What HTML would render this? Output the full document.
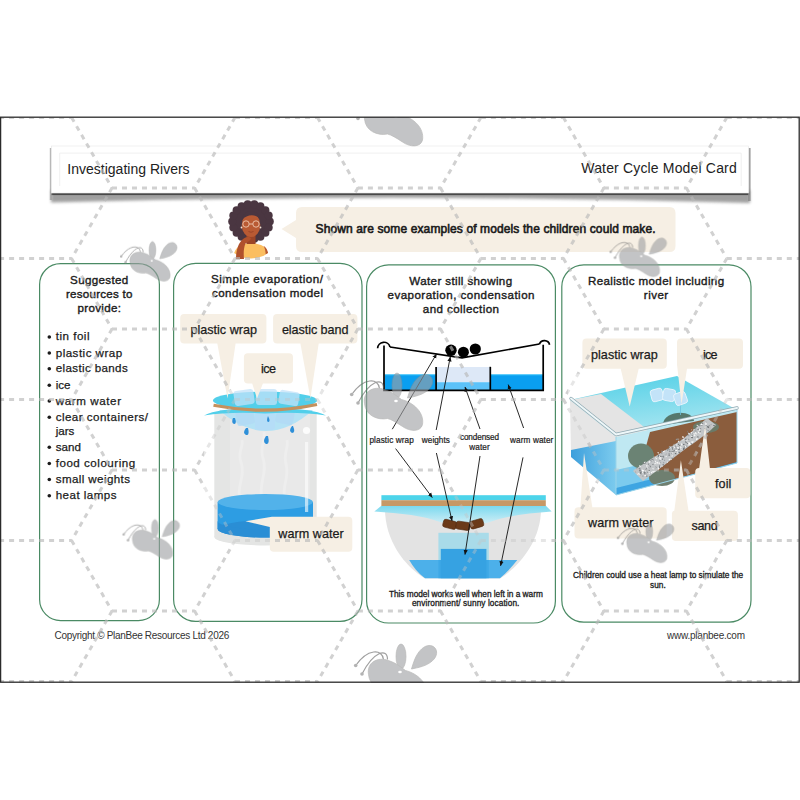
<!DOCTYPE html>
<html><head><meta charset="utf-8">
<style>
*{margin:0;padding:0;box-sizing:border-box}
html,body{width:800px;height:800px;background:#fff;overflow:hidden;font-family:"Liberation Sans",sans-serif}
#page{position:absolute;left:0;top:116.5px;width:800px;height:566.5px;border:1.5px solid #2b2b2b;border-right-width:1.5px;background:#fff}
svg{position:absolute;left:0;top:0}
text{font-family:"Liberation Sans",sans-serif;fill:#1b1b1b}
.ti{font-size:11.6px;stroke:#1b1b1b;stroke-width:0.38px}
.li{font-size:11.6px;stroke:#1b1b1b;stroke-width:0.25px}
.lb{font-size:12.6px;stroke:#1b1b1b;stroke-width:0.25px}
.sm{font-size:8.2px;stroke:#1b1b1b;stroke-width:0.2px}
.cap{font-size:8.3px;stroke:#1b1b1b;stroke-width:0.3px}
.hd{font-size:14px;fill:#222}
.ft{font-size:10px;fill:#333}
</style></head><body>

<svg width="800" height="800" viewBox="0 0 800 800">
<defs>
 <clipPath id="pc"><rect x="1" y="117.5" width="798" height="565"/></clipPath>
 
 <filter id="hs" x="-5%" y="-30%" width="110%" height="180%"><feGaussianBlur stdDeviation="2"/></filter>
</defs>
<!-- background pattern -->
<g clip-path="url(#pc)">
</g>
<!-- header -->
<clipPath id="hclip"><path clip-rule="evenodd" d="M0,0 H800 V800 H0Z M51.5,146 H748.5 V193 H51.5Z"/></clipPath>
<filter id="hs2" x="-5%" y="-50%" width="110%" height="200%"><feGaussianBlur stdDeviation="1.6"/></filter>
<filter id="hs3" x="-5%" y="-50%" width="110%" height="200%"><feGaussianBlur stdDeviation="0.6"/></filter>
<g clip-path="url(#hclip)">
 <path d="M51,190 L51,202.5 Q400,193 750,203 L750,190Z" fill="#777" opacity="0.7" filter="url(#hs2)"/>
 <rect x="51" y="192.5" width="698.5" height="2.6" fill="#4a4a4a" filter="url(#hs3)"/>
 <rect x="49.8" y="148" width="2.4" height="52" fill="#9a9a9a" opacity="0.7" filter="url(#hs3)"/>
 <rect x="748" y="148" width="2.6" height="53" fill="#8a8a8a" opacity="0.8" filter="url(#hs3)"/>
</g>
<rect x="51.5" y="146" width="697" height="47" fill="#fff" stroke="#e6e6e6" stroke-width="0.6"/>
<path d="M59.7,186 V153.1 H741.2 V186" fill="none" stroke="#ececec" stroke-width="0.8"/>
<text class="hd" x="67.3" y="173.6" textLength="122.3" lengthAdjust="spacing">Investigating Rivers</text>
<text class="hd" x="736.7" y="173.4" text-anchor="end" textLength="155.4" lengthAdjust="spacing">Water Cycle Model Card</text>
<!-- bubble -->
<path d="M302,207 H669.5 Q675.5,207 675.5,213 V246 Q675.5,252 669.5,252 H302 Q296,252 296,246 V238 L281.5,229 L296,220 V213 Q296,207 302,207Z" fill="#f6efe4"/>
<text x="315.6" y="233.2" font-size="12" stroke="#1b1b1b" stroke-width="0.6" textLength="340" lengthAdjust="spacing">Shown are some examples of models the children could make.</text>
<!-- panels -->
<g fill="none" stroke="#4a8a64" stroke-width="1.2">
 <rect x="39.6" y="263.6" width="119.8" height="357" rx="21"/>
 <rect x="173.6" y="263.4" width="188.4" height="358" rx="22"/>
 <rect x="366.6" y="264.8" width="188.8" height="358.2" rx="22"/>
 <rect x="561.8" y="264.8" width="189.2" height="357.4" rx="22"/>
</g>
<!-- P1 text -->
<g class="ti" text-anchor="middle">
 <text x="99.2" y="283.5" textLength="58.2" lengthAdjust="spacing">Suggested</text>
 <text x="99.2" y="297.5" textLength="66.5" lengthAdjust="spacing">resources to</text>
 <text x="99.2" y="311.5" textLength="43.5" lengthAdjust="spacing">provide:</text>
 <text x="267" y="283.3" textLength="112" lengthAdjust="spacing">Simple evaporation/</text>
 <text x="267.5" y="297.3" textLength="111" lengthAdjust="spacing">condensation model</text>
 <text x="460.7" y="285" textLength="102.8" lengthAdjust="spacing">Water still showing</text>
 <text x="461" y="298.8" textLength="147" lengthAdjust="spacing">evaporation, condensation</text>
 <text x="460.9" y="312.7" textLength="76.2" lengthAdjust="spacing">and collection</text>
 <text x="656" y="285" textLength="136.2" lengthAdjust="spacing">Realistic model including</text>
 <text x="656" y="299.1" textLength="24.4" lengthAdjust="spacing">river</text>
</g>
<g fill="#1b1b1b">
 <circle cx="49.3" cy="337" r="1.8"/><circle cx="49.3" cy="353" r="1.8"/><circle cx="49.3" cy="368.8" r="1.8"/><circle cx="49.3" cy="385.2" r="1.8"/><circle cx="49.3" cy="401" r="1.8"/><circle cx="49.3" cy="417.2" r="1.8"/><circle cx="49.3" cy="447.2" r="1.8"/><circle cx="49.3" cy="463.5" r="1.8"/><circle cx="49.3" cy="479.5" r="1.8"/><circle cx="49.3" cy="495.7" r="1.8"/>
</g>
<g class="li">
 <text x="55.7" y="340.4" textLength="33.8" lengthAdjust="spacing">tin foil</text>
 <text x="55.7" y="356.5" textLength="66.5" lengthAdjust="spacing">plastic wrap</text>
 <text x="55.7" y="372.2" textLength="72" lengthAdjust="spacing">elastic bands</text>
 <text x="55.7" y="388.7">ice</text>
 <text x="55.7" y="404.5" textLength="65.3" lengthAdjust="spacing">warm water</text>
 <text x="55.7" y="420.7" textLength="92.3" lengthAdjust="spacing">clear containers/</text>
 <text x="55.7" y="435">jars</text>
 <text x="55.7" y="450.7">sand</text>
 <text x="55.7" y="467" textLength="79.5" lengthAdjust="spacing">food colouring</text>
 <text x="55.7" y="483" textLength="74.3" lengthAdjust="spacing">small weights</text>
 <text x="55.7" y="499.2" textLength="60.8" lengthAdjust="spacing">heat lamps</text>
</g>
<!-- ===== P2 jar ===== -->
<g id="jar">
 <rect x="214.3" y="412" width="102.4" height="125" fill="#e4e5e4"/>
 <ellipse cx="265.5" cy="537" rx="51.2" ry="8.5" fill="#e4e5e4"/>
 <rect x="230" y="414" width="80" height="90" fill="#e9e9e9"/>
 <g fill="none" stroke="#fff" stroke-opacity="0.22" stroke-width="3">
  <path d="M240,500 C236,485 246,478 241,462 C237,452 244,446 242,440"/>
  <path d="M262,500 C258,482 268,474 263,458 C259,448 266,440 264,432"/>
  <path d="M285,500 C281,486 290,478 286,464 C283,454 289,447 287,440"/>
 </g>
 <rect x="217.6" y="502" width="95.4" height="27" fill="#2d9de3"/>
 <ellipse cx="265.3" cy="529" rx="47.7" ry="8.6" fill="#2a8ed5"/>
 <path d="M217.6,529 A47.7,8.6 0 0 0 313,529 L313,521 A47.7,8.6 0 0 1 217.6,521Z" fill="#2a8ed5"/>
 <ellipse cx="265.3" cy="502" rx="47.7" ry="8" fill="#52b2ea"/>
 <rect x="305" y="442" width="3.2" height="70" fill="#fff" fill-opacity="0.6"/>
 <circle cx="306.5" cy="430.5" r="3.6" fill="#fff" fill-opacity="0.85"/>
 <!-- wrap -->
 <path d="M219,410 Q266,452 313,410Z" fill="#b4e2f5"/>
 <g fill="#b2daf5" fill-opacity="0.8">
  <rect x="236" y="408" width="18" height="17" rx="3" transform="rotate(-10 245 416)"/>
  <rect x="255" y="412" width="20" height="18" rx="3" fill="#b5dcf7"/>
  <rect x="276" y="408" width="18" height="16" rx="3" transform="rotate(12 285 416)"/>
 </g>
 <g fill="#2e8fd8">
  <path d="M233,418 q-2,5 1,6 q3,0 1,-6z"/>
  <path d="M246,428 q-4,5 0,7 q4,1 2,-7z"/>
  <path d="M266,436 q-4,6 0,8 q4,1 2,-8z"/>
  <path d="M292,426 q-4,5 0,7 q4,0 1,-7z"/>
  <path d="M268,416 q-2,5 0,6 q3,0 0,-6z"/>
 </g>
 <path d="M204,415.5 Q222,407 265,409 Q308,407 326,415.5 Q300,411.5 265,413.5 Q230,411.5 204,415.5Z" fill="#52cfea"/>
 <ellipse cx="265" cy="400.5" rx="52" ry="9" fill="#52cfea"/>
 <g fill="#c2e2f8" fill-opacity="0.75">
  <rect x="234" y="390" width="20" height="15" rx="3" transform="rotate(-8 244 397)"/>
  <rect x="256" y="389" width="21" height="16" rx="3"/>
  <rect x="279" y="391" width="20" height="14" rx="3" transform="rotate(10 289 398)"/>
 </g>
 <path d="M213.5,405.3 Q265,415.5 317,404.5" fill="none" stroke="#c4915e" stroke-width="3.2"/>
</g>
<!-- ===== P3 diagram ===== -->
<g id="still">
 <rect x="384.8" y="374.6" width="51" height="15.6" fill="#0a9ff0"/>
 <rect x="385" y="374.4" width="51" height="0.9" fill="#3ec6fb"/>
 <rect x="491" y="374.6" width="52" height="15.6" fill="#0a9ff0"/>
 <rect x="491" y="374.4" width="52" height="0.9" fill="#3ec6fb"/>
 <rect x="437" y="367" width="53" height="15.2" fill="#dde8f7"/>
 <rect x="437" y="382.2" width="53" height="8" fill="#5cc2f9"/>
 <g fill="none" stroke="#000" stroke-width="1.7">
  <path d="M384,345.5 V390.3 H543.2 V344.8"/>
  <path d="M436.1,367 V390"/>
  <path d="M490.3,366.8 V390"/>
  <path d="M377.6,348.3 A6.3,6.3 0 0 1 390,347"/>
  <path d="M539.4,344.2 A5.3,5.3 0 0 1 549.6,344.8"/>
  <path d="M390,347 L462,357.8 L539.4,344"/>
 </g>
 <g fill="#000">
  <circle cx="451" cy="350.2" r="5.7"/>
  <circle cx="463.4" cy="352.2" r="5.5"/>
  <circle cx="475.3" cy="349" r="5.6"/>
 </g>
</g>
<!-- ===== P3 bowl ===== -->
<g id="bowl">
 <path d="M385,509 H541 C541,540 520,566 500,578.5 H425 C404,566 385,540 385,509Z" fill="#e3e3e3"/>
 <path d="M409.2,560 H517.3 C512,567 506,573 500,578.2 H425 C418,573 413,567 409.2,560Z" fill="#4cb0ea"/>
 <rect x="438.4" y="532.8" width="50.4" height="27.2" fill="#a9dbe9"/>
 <rect x="438.4" y="560" width="50.4" height="18.2" fill="#3ea8e6"/>
 <rect x="440.8" y="548.9" width="45.6" height="29.3" fill="#36a2e2"/>
 <defs><linearGradient id="skirt" x1="0" y1="0" x2="0" y2="1"><stop offset="0" stop-color="#7ad9ef"/><stop offset="1" stop-color="#d6eff6"/></linearGradient></defs>
 <path d="M374.3,511.5 L381.4,505.8 H545.8 L551.7,511.5 C530,513 505,516 490,522 C478,526 455,526 440,522 C425,516 400,513 374.3,511.5Z" fill="url(#skirt)"/>
 <rect x="381.4" y="495.2" width="164.4" height="5" fill="#4dd4ea"/>
 <rect x="381.4" y="500.2" width="164.4" height="5.8" fill="#c69866"/>
 <g fill="#6b3a19" stroke="#4e2810" stroke-width="0.6">
  <rect x="443" y="520.3" width="13.5" height="8" rx="2.2" transform="rotate(14 449.7 524.3)"/>
  <rect x="456" y="521.8" width="14" height="8" rx="2.2" transform="rotate(8 463 525.8)"/>
  <rect x="470" y="519.8" width="13.5" height="8" rx="2.2" transform="rotate(-16 476.8 523.8)"/>
 </g>
</g>
<!-- arrows P3 -->
<defs><marker id="ah" markerWidth="6" markerHeight="6" refX="4.6" refY="3" orient="auto" markerUnits="userSpaceOnUse"><path d="M0,0.9 L4.8,3 L0,5.1Z" fill="#111"/></marker></defs>
<g stroke="#111" stroke-width="0.9" fill="none" marker-end="url(#ah)">
 <path d="M392.3,429.2 L436.6,353.8"/>
 <path d="M436.2,430 L450.3,356.8"/>
 <path d="M480,429 L465,387"/>
 <path d="M523.6,428 L508.2,384.6"/>
 <path d="M395.6,448.6 L432.3,497.5"/>
 <path d="M436.4,453 L452,520.8"/>
 <path d="M480,456 L465,554.5"/>
 <path d="M523,457.4 L500.6,565.8"/>
</g>
<!-- ===== P4 box ===== -->
<g id="box">
 <defs>
  <linearGradient id="topg" x1="0" y1="0" x2="0.3" y2="1"><stop offset="0" stop-color="#4fcfe6"/><stop offset="1" stop-color="#a9e6f1"/></linearGradient>
  <linearGradient id="lw" x1="0" y1="0" x2="1" y2="0"><stop offset="0" stop-color="#3d9fdc"/><stop offset="1" stop-color="#7ccbee"/></linearGradient>
 </defs>
 <!-- left face -->
 <path d="M570,400 L616,437 L616,495 L571,457Z" fill="#e6e6e6"/>
 <path d="M571,450 L616,441 L616,495 L571,457Z" fill="url(#lw)"/>
 <!-- front face -->
 <path d="M616,437 L737,410 L737,463 L616,495Z" fill="#bfe8f2"/>
 <path d="M616,470 L737,443 L737,463 L616,495Z" fill="#7ccbee"/>
 <path d="M616,488 L737,458 L737,463 L616,495Z" fill="#3ea5e2"/>
 <!-- sand -->
 <path d="M650,432 L737,412 L737,462 L668,481 C655,482 645,476 640,468Z" fill="#8b5d3d"/>
 <ellipse cx="641" cy="456" rx="13" ry="12.5" fill="#6b8374"/>
 <ellipse cx="662" cy="478" rx="13" ry="8" fill="#6f7f70"/>
  <ellipse cx="706" cy="427" rx="13" ry="6" fill="#6b7a68"/>
 <!-- foil -->
 <path d="M633,471 C650,459 668,449 680,441 C690,434 700,424 707,418 L716,425 C708,433 697,441 688,447 C672,459 658,470 643,481Z" fill="#c3c6c8"/>
 <g><rect x="654.9" y="462.6" width="2.1" height="1.0" fill="#f4f4f4" transform="rotate(105 655.9 463.1)"/><rect x="685.8" y="445.9" width="1.2" height="0.8" fill="#ffffff" transform="rotate(179 686.4 446.3)"/><rect x="675.1" y="452.5" width="1.4" height="1.3" fill="#ffffff" transform="rotate(42 675.8 453.2)"/><rect x="652.4" y="471.2" width="1.8" height="1.1" fill="#ffffff" transform="rotate(12 653.3 471.7)"/><rect x="693.6" y="434.7" width="1.9" height="1.3" fill="#f4f4f4" transform="rotate(48 694.6 435.3)"/><rect x="684.8" y="446.3" width="1.8" height="1.3" fill="#ffffff" transform="rotate(71 685.7 447.0)"/><rect x="695.3" y="431.5" width="2.0" height="0.7" fill="#9a9ea1" transform="rotate(24 696.4 431.8)"/><rect x="657.6" y="467.9" width="1.9" height="1.3" fill="#ffffff" transform="rotate(76 658.5 468.5)"/><rect x="699.1" y="430.5" width="1.6" height="1.1" fill="#b5b8ba" transform="rotate(163 699.9 431.1)"/><rect x="691.0" y="441.7" width="2.2" height="1.1" fill="#f4f4f4" transform="rotate(29 692.1 442.2)"/><rect x="704.7" y="432.0" width="1.6" height="1.2" fill="#b5b8ba" transform="rotate(38 705.5 432.5)"/><rect x="699.3" y="430.7" width="1.0" height="1.0" fill="#f4f4f4" transform="rotate(115 699.8 431.2)"/><rect x="671.4" y="447.6" width="1.4" height="0.7" fill="#7d8184" transform="rotate(53 672.1 448.0)"/><rect x="697.1" y="436.3" width="1.6" height="1.2" fill="#7d8184" transform="rotate(68 697.9 436.9)"/><rect x="680.8" y="443.6" width="1.5" height="1.4" fill="#f4f4f4" transform="rotate(56 681.6 444.3)"/><rect x="643.6" y="471.7" width="2.1" height="1.4" fill="#7d8184" transform="rotate(52 644.6 472.4)"/><rect x="658.6" y="462.5" width="1.2" height="1.4" fill="#f4f4f4" transform="rotate(161 659.2 463.2)"/><rect x="664.7" y="454.1" width="1.3" height="1.3" fill="#b5b8ba" transform="rotate(123 665.4 454.7)"/><rect x="649.6" y="474.4" width="1.2" height="1.1" fill="#b5b8ba" transform="rotate(129 650.2 475.0)"/><rect x="705.5" y="424.0" width="1.5" height="1.0" fill="#f4f4f4" transform="rotate(2 706.3 424.5)"/><rect x="668.6" y="453.3" width="1.3" height="1.1" fill="#7d8184" transform="rotate(24 669.3 453.8)"/><rect x="682.1" y="439.4" width="1.8" height="0.9" fill="#f4f4f4" transform="rotate(127 683.0 439.9)"/><rect x="686.8" y="431.5" width="2.1" height="0.6" fill="#7d8184" transform="rotate(66 687.8 431.8)"/><rect x="681.6" y="439.4" width="1.2" height="0.9" fill="#b5b8ba" transform="rotate(56 682.3 439.9)"/><rect x="665.1" y="456.1" width="1.9" height="0.7" fill="#f4f4f4" transform="rotate(146 666.1 456.5)"/><rect x="710.4" y="424.0" width="1.2" height="0.8" fill="#9a9ea1" transform="rotate(145 711.1 424.4)"/><rect x="651.6" y="459.1" width="1.7" height="0.7" fill="#ffffff" transform="rotate(108 652.5 459.5)"/><rect x="708.6" y="424.9" width="1.4" height="1.3" fill="#9a9ea1" transform="rotate(30 709.3 425.5)"/><rect x="663.5" y="458.4" width="1.4" height="0.8" fill="#b5b8ba" transform="rotate(22 664.2 458.8)"/><rect x="673.5" y="443.7" width="1.1" height="0.8" fill="#b5b8ba" transform="rotate(145 674.0 444.2)"/><rect x="687.2" y="442.9" width="1.6" height="0.9" fill="#f4f4f4" transform="rotate(93 688.0 443.4)"/><rect x="699.5" y="428.9" width="1.4" height="0.9" fill="#6c7073" transform="rotate(74 700.2 429.3)"/><rect x="701.8" y="422.6" width="1.5" height="1.3" fill="#7d8184" transform="rotate(112 702.5 423.3)"/><rect x="675.5" y="447.9" width="1.1" height="1.2" fill="#6c7073" transform="rotate(151 676.1 448.5)"/><rect x="686.1" y="439.2" width="1.6" height="1.3" fill="#f4f4f4" transform="rotate(155 686.9 439.9)"/><rect x="704.4" y="432.4" width="1.9" height="0.6" fill="#7d8184" transform="rotate(163 705.4 432.7)"/><rect x="692.1" y="441.2" width="1.6" height="0.6" fill="#ffffff" transform="rotate(134 692.9 441.5)"/><rect x="648.2" y="463.6" width="0.8" height="1.0" fill="#6c7073" transform="rotate(10 648.7 464.2)"/><rect x="701.0" y="422.7" width="1.2" height="1.3" fill="#9a9ea1" transform="rotate(86 701.6 423.4)"/><rect x="693.6" y="431.4" width="1.0" height="1.3" fill="#9a9ea1" transform="rotate(21 694.1 432.1)"/><rect x="652.4" y="460.0" width="2.0" height="0.6" fill="#9a9ea1" transform="rotate(113 653.4 460.3)"/><rect x="696.7" y="425.0" width="1.1" height="1.1" fill="#f4f4f4" transform="rotate(94 697.3 425.5)"/><rect x="639.0" y="470.2" width="2.0" height="1.2" fill="#7d8184" transform="rotate(8 640.0 470.8)"/><rect x="640.5" y="472.3" width="2.0" height="0.7" fill="#7d8184" transform="rotate(90 641.5 472.6)"/><rect x="658.8" y="456.2" width="1.3" height="0.9" fill="#f4f4f4" transform="rotate(55 659.4 456.6)"/><rect x="661.7" y="465.5" width="1.0" height="1.0" fill="#ffffff" transform="rotate(129 662.2 466.0)"/><rect x="661.5" y="450.5" width="0.9" height="1.0" fill="#9a9ea1" transform="rotate(117 661.9 451.0)"/><rect x="678.2" y="447.0" width="1.7" height="0.9" fill="#7d8184" transform="rotate(67 679.1 447.5)"/><rect x="675.3" y="450.1" width="2.1" height="0.9" fill="#ffffff" transform="rotate(3 676.4 450.5)"/><rect x="651.4" y="460.9" width="0.9" height="0.9" fill="#b5b8ba" transform="rotate(77 651.8 461.4)"/><rect x="705.6" y="430.7" width="2.2" height="1.0" fill="#f4f4f4" transform="rotate(157 706.6 431.3)"/><rect x="647.9" y="470.3" width="1.7" height="1.3" fill="#6c7073" transform="rotate(143 648.8 470.9)"/><rect x="688.5" y="440.8" width="1.5" height="1.2" fill="#b5b8ba" transform="rotate(129 689.2 441.4)"/><rect x="669.9" y="447.2" width="0.9" height="0.7" fill="#ffffff" transform="rotate(18 670.3 447.5)"/><rect x="699.1" y="424.9" width="1.3" height="1.3" fill="#7d8184" transform="rotate(5 699.8 425.6)"/><rect x="645.2" y="468.6" width="2.1" height="1.1" fill="#6c7073" transform="rotate(144 646.3 469.1)"/><rect x="642.6" y="476.0" width="1.5" height="0.8" fill="#b5b8ba" transform="rotate(100 643.3 476.4)"/><rect x="645.2" y="470.1" width="1.3" height="1.1" fill="#b5b8ba" transform="rotate(149 645.9 470.7)"/><rect x="652.0" y="458.6" width="1.4" height="1.2" fill="#9a9ea1" transform="rotate(170 652.7 459.2)"/><rect x="656.8" y="462.2" width="1.6" height="1.4" fill="#f4f4f4" transform="rotate(68 657.6 462.8)"/><rect x="658.4" y="466.6" width="2.2" height="0.9" fill="#6c7073" transform="rotate(102 659.5 467.1)"/><rect x="683.9" y="447.3" width="1.5" height="1.1" fill="#6c7073" transform="rotate(162 684.6 447.9)"/><rect x="644.3" y="462.7" width="1.5" height="1.2" fill="#6c7073" transform="rotate(171 645.0 463.2)"/><rect x="683.9" y="446.6" width="1.2" height="0.8" fill="#9a9ea1" transform="rotate(105 684.5 446.9)"/><rect x="657.8" y="455.3" width="1.6" height="1.2" fill="#6c7073" transform="rotate(121 658.5 455.9)"/><rect x="700.9" y="429.6" width="1.6" height="0.8" fill="#b5b8ba" transform="rotate(39 701.7 430.0)"/><rect x="639.0" y="473.5" width="1.1" height="1.1" fill="#ffffff" transform="rotate(43 639.5 474.0)"/><rect x="675.8" y="452.2" width="2.2" height="1.0" fill="#ffffff" transform="rotate(108 676.9 452.7)"/><rect x="674.8" y="452.8" width="1.6" height="1.0" fill="#6c7073" transform="rotate(130 675.6 453.3)"/><rect x="699.0" y="428.2" width="2.0" height="0.6" fill="#6c7073" transform="rotate(164 700.1 428.5)"/><rect x="704.4" y="428.1" width="0.9" height="0.8" fill="#6c7073" transform="rotate(46 704.8 428.5)"/><rect x="705.4" y="428.9" width="1.1" height="1.2" fill="#9a9ea1" transform="rotate(155 705.9 429.5)"/><rect x="701.3" y="424.6" width="1.2" height="0.9" fill="#7d8184" transform="rotate(131 701.9 425.1)"/><rect x="639.9" y="466.0" width="0.9" height="1.0" fill="#f4f4f4" transform="rotate(132 640.3 466.5)"/><rect x="657.5" y="452.3" width="1.4" height="1.0" fill="#f4f4f4" transform="rotate(38 658.2 452.8)"/><rect x="684.8" y="447.4" width="1.0" height="0.9" fill="#ffffff" transform="rotate(159 685.3 447.8)"/><rect x="641.9" y="470.0" width="2.0" height="1.3" fill="#ffffff" transform="rotate(17 642.9 470.7)"/><rect x="705.1" y="423.3" width="1.9" height="0.8" fill="#f4f4f4" transform="rotate(122 706.0 423.8)"/><rect x="688.5" y="442.1" width="1.0" height="1.4" fill="#f4f4f4" transform="rotate(61 688.9 442.7)"/><rect x="679.1" y="444.7" width="1.5" height="0.9" fill="#6c7073" transform="rotate(129 679.8 445.2)"/><rect x="687.6" y="438.8" width="1.7" height="1.2" fill="#9a9ea1" transform="rotate(27 688.5 439.4)"/><rect x="668.8" y="458.8" width="1.0" height="1.3" fill="#ffffff" transform="rotate(25 669.3 459.5)"/><rect x="663.8" y="459.3" width="1.4" height="0.8" fill="#b5b8ba" transform="rotate(34 664.5 459.7)"/><rect x="675.7" y="451.4" width="0.9" height="1.2" fill="#6c7073" transform="rotate(136 676.1 452.0)"/><rect x="679.7" y="447.9" width="0.9" height="0.8" fill="#f4f4f4" transform="rotate(10 680.2 448.3)"/><rect x="647.3" y="467.3" width="1.1" height="1.2" fill="#f4f4f4" transform="rotate(64 647.8 467.9)"/><rect x="660.6" y="456.3" width="1.9" height="0.7" fill="#b5b8ba" transform="rotate(90 661.5 456.6)"/><rect x="707.6" y="418.9" width="0.9" height="0.7" fill="#b5b8ba" transform="rotate(140 708.0 419.3)"/><rect x="687.7" y="433.1" width="1.6" height="1.1" fill="#9a9ea1" transform="rotate(70 688.5 433.7)"/><rect x="706.4" y="419.3" width="1.0" height="0.9" fill="#b5b8ba" transform="rotate(35 706.9 419.8)"/><rect x="676.4" y="447.2" width="2.0" height="0.9" fill="#9a9ea1" transform="rotate(53 677.4 447.6)"/><rect x="698.3" y="429.1" width="2.1" height="0.9" fill="#ffffff" transform="rotate(99 699.4 429.6)"/><rect x="681.2" y="444.8" width="1.8" height="0.8" fill="#b5b8ba" transform="rotate(155 682.1 445.2)"/><rect x="673.7" y="449.9" width="1.7" height="0.7" fill="#6c7073" transform="rotate(136 674.5 450.3)"/><rect x="651.3" y="459.2" width="1.4" height="0.8" fill="#6c7073" transform="rotate(95 652.0 459.6)"/><rect x="639.7" y="473.2" width="2.1" height="0.7" fill="#6c7073" transform="rotate(51 640.7 473.5)"/><rect x="682.1" y="436.5" width="1.9" height="1.1" fill="#ffffff" transform="rotate(9 683.1 437.1)"/><rect x="661.1" y="453.2" width="1.5" height="0.6" fill="#7d8184" transform="rotate(61 661.9 453.5)"/><rect x="660.1" y="455.6" width="1.0" height="1.3" fill="#6c7073" transform="rotate(108 660.6 456.3)"/><rect x="707.0" y="426.3" width="2.2" height="1.4" fill="#6c7073" transform="rotate(37 708.1 427.0)"/><rect x="638.7" y="468.4" width="1.9" height="1.0" fill="#6c7073" transform="rotate(20 639.7 468.9)"/><rect x="636.0" y="468.2" width="1.8" height="0.9" fill="#9a9ea1" transform="rotate(85 636.9 468.6)"/><rect x="645.6" y="475.2" width="1.7" height="0.8" fill="#9a9ea1" transform="rotate(84 646.5 475.6)"/><rect x="692.0" y="433.5" width="1.4" height="0.6" fill="#9a9ea1" transform="rotate(46 692.7 433.8)"/><rect x="699.1" y="428.9" width="1.6" height="0.8" fill="#f4f4f4" transform="rotate(0 699.9 429.3)"/><rect x="655.1" y="466.6" width="2.0" height="1.0" fill="#9a9ea1" transform="rotate(29 656.1 467.1)"/><rect x="640.0" y="474.9" width="1.0" height="0.6" fill="#b5b8ba" transform="rotate(20 640.5 475.2)"/><rect x="649.3" y="465.9" width="2.0" height="0.9" fill="#7d8184" transform="rotate(57 650.3 466.3)"/><rect x="641.9" y="475.6" width="1.4" height="0.9" fill="#9a9ea1" transform="rotate(5 642.5 476.1)"/><rect x="705.8" y="421.0" width="1.3" height="0.8" fill="#7d8184" transform="rotate(60 706.4 421.4)"/><rect x="650.2" y="473.0" width="0.9" height="1.2" fill="#b5b8ba" transform="rotate(50 650.6 473.6)"/><rect x="694.8" y="432.2" width="1.5" height="1.0" fill="#f4f4f4" transform="rotate(5 695.6 432.7)"/><rect x="667.1" y="461.5" width="0.9" height="1.1" fill="#f4f4f4" transform="rotate(174 667.5 462.1)"/><rect x="676.0" y="438.9" width="1.8" height="0.6" fill="#7d8184" transform="rotate(91 676.9 439.2)"/><rect x="669.4" y="446.3" width="2.1" height="0.8" fill="#b5b8ba" transform="rotate(175 670.5 446.7)"/><rect x="674.9" y="452.2" width="2.1" height="0.6" fill="#f4f4f4" transform="rotate(55 675.9 452.5)"/><rect x="685.7" y="446.2" width="2.1" height="0.7" fill="#7d8184" transform="rotate(74 686.8 446.6)"/><rect x="674.9" y="447.8" width="1.8" height="1.3" fill="#b5b8ba" transform="rotate(31 675.7 448.5)"/><rect x="693.9" y="437.1" width="1.3" height="0.7" fill="#b5b8ba" transform="rotate(144 694.5 437.4)"/><rect x="669.0" y="450.9" width="1.5" height="0.8" fill="#6c7073" transform="rotate(31 669.7 451.3)"/><rect x="691.1" y="436.8" width="1.8" height="1.4" fill="#6c7073" transform="rotate(8 691.9 437.4)"/><rect x="652.6" y="468.2" width="0.9" height="1.2" fill="#ffffff" transform="rotate(119 653.1 468.8)"/><rect x="662.1" y="458.6" width="0.9" height="1.1" fill="#6c7073" transform="rotate(9 662.5 459.2)"/><rect x="675.2" y="453.2" width="1.3" height="0.9" fill="#6c7073" transform="rotate(13 675.8 453.7)"/><rect x="671.1" y="457.8" width="1.3" height="0.8" fill="#7d8184" transform="rotate(81 671.7 458.2)"/><rect x="695.3" y="428.5" width="0.9" height="0.7" fill="#6c7073" transform="rotate(116 695.8 428.9)"/><rect x="675.8" y="439.3" width="1.2" height="0.8" fill="#9a9ea1" transform="rotate(153 676.4 439.7)"/><rect x="675.3" y="447.1" width="1.2" height="1.3" fill="#b5b8ba" transform="rotate(141 675.9 447.7)"/><rect x="672.5" y="451.0" width="2.0" height="0.7" fill="#7d8184" transform="rotate(4 673.5 451.4)"/><rect x="705.9" y="420.7" width="0.9" height="1.0" fill="#f4f4f4" transform="rotate(40 706.3 421.2)"/><rect x="699.3" y="431.0" width="1.5" height="1.1" fill="#6c7073" transform="rotate(126 700.0 431.6)"/><rect x="668.6" y="454.6" width="1.2" height="1.4" fill="#7d8184" transform="rotate(80 669.2 455.3)"/><rect x="661.5" y="450.8" width="1.4" height="1.2" fill="#7d8184" transform="rotate(14 662.2 451.4)"/><rect x="662.2" y="456.1" width="2.1" height="1.1" fill="#7d8184" transform="rotate(66 663.3 456.7)"/><rect x="691.1" y="429.3" width="1.1" height="0.9" fill="#b5b8ba" transform="rotate(179 691.6 429.8)"/><rect x="661.4" y="456.3" width="1.2" height="0.9" fill="#7d8184" transform="rotate(135 662.0 456.7)"/><rect x="649.6" y="460.8" width="1.7" height="1.3" fill="#6c7073" transform="rotate(96 650.5 461.5)"/><rect x="672.0" y="456.6" width="2.1" height="1.0" fill="#b5b8ba" transform="rotate(139 673.1 457.1)"/><rect x="672.1" y="457.5" width="1.2" height="1.3" fill="#7d8184" transform="rotate(33 672.7 458.2)"/><rect x="646.5" y="472.4" width="1.5" height="0.6" fill="#f4f4f4" transform="rotate(85 647.2 472.7)"/><rect x="648.7" y="461.6" width="1.4" height="0.9" fill="#ffffff" transform="rotate(134 649.4 462.0)"/><rect x="690.2" y="432.8" width="1.4" height="1.3" fill="#7d8184" transform="rotate(80 690.9 433.5)"/><rect x="652.4" y="463.8" width="1.2" height="0.9" fill="#6c7073" transform="rotate(145 653.0 464.3)"/><rect x="688.1" y="444.5" width="1.2" height="1.0" fill="#ffffff" transform="rotate(95 688.8 445.0)"/><rect x="675.9" y="444.5" width="1.2" height="1.0" fill="#f4f4f4" transform="rotate(160 676.5 445.0)"/><rect x="694.4" y="429.8" width="2.1" height="1.0" fill="#9a9ea1" transform="rotate(3 695.5 430.3)"/><rect x="680.4" y="438.2" width="1.0" height="0.6" fill="#7d8184" transform="rotate(37 680.9 438.6)"/><rect x="693.2" y="433.3" width="2.2" height="0.6" fill="#f4f4f4" transform="rotate(33 694.3 433.6)"/><rect x="637.3" y="473.5" width="2.0" height="1.1" fill="#f4f4f4" transform="rotate(146 638.3 474.0)"/><rect x="667.8" y="448.5" width="1.9" height="0.9" fill="#6c7073" transform="rotate(47 668.8 449.0)"/><rect x="639.4" y="472.0" width="2.2" height="0.7" fill="#6c7073" transform="rotate(137 640.5 472.4)"/><rect x="682.8" y="448.4" width="1.9" height="1.2" fill="#6c7073" transform="rotate(92 683.7 449.0)"/><rect x="699.1" y="430.7" width="0.8" height="0.6" fill="#f4f4f4" transform="rotate(87 699.6 431.0)"/><rect x="644.9" y="475.1" width="1.5" height="1.1" fill="#ffffff" transform="rotate(167 645.6 475.6)"/><rect x="698.1" y="431.8" width="1.3" height="1.1" fill="#ffffff" transform="rotate(53 698.8 432.3)"/><rect x="639.4" y="467.1" width="0.9" height="1.2" fill="#b5b8ba" transform="rotate(80 639.8 467.7)"/><rect x="655.0" y="457.7" width="2.1" height="0.7" fill="#f4f4f4" transform="rotate(57 656.1 458.0)"/><rect x="674.6" y="445.9" width="2.0" height="1.3" fill="#9a9ea1" transform="rotate(110 675.5 446.5)"/><rect x="640.5" y="474.3" width="1.0" height="0.7" fill="#b5b8ba" transform="rotate(141 641.0 474.7)"/><rect x="690.4" y="432.5" width="1.7" height="0.9" fill="#ffffff" transform="rotate(93 691.3 432.9)"/><rect x="707.3" y="430.1" width="1.4" height="0.8" fill="#6c7073" transform="rotate(62 708.0 430.5)"/><rect x="689.6" y="443.5" width="1.2" height="0.8" fill="#ffffff" transform="rotate(171 690.2 443.9)"/><rect x="704.9" y="422.9" width="1.6" height="0.6" fill="#ffffff" transform="rotate(75 705.7 423.2)"/><rect x="671.6" y="456.5" width="1.1" height="0.8" fill="#ffffff" transform="rotate(14 672.2 456.9)"/><rect x="678.1" y="448.6" width="1.7" height="1.3" fill="#7d8184" transform="rotate(1 679.0 449.2)"/><rect x="662.5" y="464.1" width="1.4" height="1.4" fill="#7d8184" transform="rotate(83 663.2 464.8)"/><rect x="659.3" y="459.8" width="1.1" height="1.4" fill="#9a9ea1" transform="rotate(26 659.8 460.5)"/><rect x="700.8" y="423.7" width="1.7" height="1.1" fill="#ffffff" transform="rotate(26 701.6 424.2)"/><rect x="644.0" y="474.8" width="1.2" height="1.1" fill="#9a9ea1" transform="rotate(24 644.6 475.4)"/><rect x="648.2" y="467.4" width="1.5" height="0.9" fill="#9a9ea1" transform="rotate(19 649.0 467.8)"/><rect x="670.9" y="458.7" width="0.9" height="0.7" fill="#f4f4f4" transform="rotate(53 671.3 459.0)"/><rect x="670.0" y="458.6" width="0.9" height="0.8" fill="#b5b8ba" transform="rotate(169 670.4 458.9)"/><rect x="715.1" y="424.5" width="0.9" height="1.0" fill="#9a9ea1" transform="rotate(161 715.6 425.0)"/><rect x="648.6" y="473.1" width="0.8" height="0.9" fill="#ffffff" transform="rotate(135 649.1 473.6)"/><rect x="695.3" y="433.4" width="1.6" height="0.8" fill="#ffffff" transform="rotate(27 696.1 433.8)"/><rect x="669.8" y="449.2" width="1.2" height="1.2" fill="#b5b8ba" transform="rotate(135 670.4 449.8)"/><rect x="663.0" y="462.1" width="1.2" height="1.3" fill="#9a9ea1" transform="rotate(23 663.6 462.8)"/><rect x="677.2" y="438.8" width="2.0" height="0.7" fill="#b5b8ba" transform="rotate(3 678.2 439.1)"/><rect x="703.7" y="430.2" width="1.8" height="1.0" fill="#b5b8ba" transform="rotate(138 704.6 430.7)"/><rect x="644.6" y="470.4" width="1.3" height="1.1" fill="#ffffff" transform="rotate(39 645.2 470.9)"/><rect x="671.5" y="451.0" width="1.2" height="0.9" fill="#6c7073" transform="rotate(108 672.1 451.4)"/><rect x="713.0" y="425.2" width="2.0" height="0.8" fill="#6c7073" transform="rotate(176 714.0 425.6)"/><rect x="653.6" y="456.5" width="1.1" height="1.4" fill="#b5b8ba" transform="rotate(131 654.2 457.2)"/><rect x="654.9" y="460.9" width="1.4" height="1.0" fill="#f4f4f4" transform="rotate(96 655.6 461.4)"/><rect x="706.0" y="431.2" width="1.5" height="1.4" fill="#b5b8ba" transform="rotate(9 706.7 431.9)"/><rect x="668.2" y="453.1" width="1.9" height="0.6" fill="#b5b8ba" transform="rotate(154 669.2 453.4)"/><rect x="670.1" y="459.0" width="1.5" height="0.6" fill="#f4f4f4" transform="rotate(89 670.9 459.3)"/><rect x="648.0" y="471.1" width="1.8" height="0.9" fill="#ffffff" transform="rotate(54 648.9 471.6)"/><rect x="673.1" y="446.7" width="2.1" height="1.1" fill="#f4f4f4" transform="rotate(19 674.2 447.3)"/><rect x="672.1" y="446.6" width="1.3" height="1.1" fill="#7d8184" transform="rotate(25 672.7 447.2)"/><rect x="641.7" y="468.9" width="1.1" height="0.6" fill="#f4f4f4" transform="rotate(132 642.2 469.2)"/><rect x="659.5" y="457.4" width="2.0" height="1.3" fill="#f4f4f4" transform="rotate(164 660.5 458.0)"/><rect x="671.4" y="452.7" width="1.5" height="1.3" fill="#7d8184" transform="rotate(40 672.2 453.3)"/><rect x="645.8" y="465.3" width="1.1" height="1.3" fill="#b5b8ba" transform="rotate(108 646.3 466.0)"/><rect x="638.9" y="465.4" width="1.3" height="1.0" fill="#f4f4f4" transform="rotate(177 639.6 465.9)"/><rect x="668.6" y="446.2" width="1.5" height="0.9" fill="#9a9ea1" transform="rotate(113 669.3 446.7)"/><rect x="685.1" y="438.7" width="1.7" height="1.2" fill="#7d8184" transform="rotate(158 685.9 439.3)"/><rect x="645.4" y="475.7" width="2.2" height="0.7" fill="#6c7073" transform="rotate(2 646.5 476.1)"/><rect x="671.6" y="448.4" width="2.0" height="0.9" fill="#7d8184" transform="rotate(75 672.5 448.9)"/><rect x="683.6" y="446.7" width="1.7" height="1.4" fill="#9a9ea1" transform="rotate(9 684.5 447.4)"/><rect x="679.1" y="450.6" width="1.5" height="1.1" fill="#b5b8ba" transform="rotate(15 679.9 451.1)"/><rect x="654.1" y="462.2" width="1.4" height="0.9" fill="#b5b8ba" transform="rotate(82 654.8 462.6)"/><rect x="705.5" y="421.0" width="1.2" height="1.3" fill="#b5b8ba" transform="rotate(24 706.1 421.7)"/><rect x="677.6" y="447.2" width="1.2" height="1.3" fill="#f4f4f4" transform="rotate(105 678.2 447.9)"/><rect x="690.9" y="436.2" width="0.9" height="0.9" fill="#ffffff" transform="rotate(56 691.3 436.7)"/><rect x="655.4" y="468.5" width="1.1" height="0.7" fill="#9a9ea1" transform="rotate(82 655.9 468.8)"/><rect x="705.6" y="424.8" width="1.2" height="1.2" fill="#9a9ea1" transform="rotate(59 706.2 425.4)"/><rect x="658.9" y="465.7" width="2.0" height="0.6" fill="#6c7073" transform="rotate(72 659.9 466.0)"/><rect x="662.9" y="451.1" width="1.3" height="0.6" fill="#f4f4f4" transform="rotate(174 663.5 451.4)"/><rect x="688.4" y="433.1" width="1.4" height="1.1" fill="#f4f4f4" transform="rotate(44 689.1 433.6)"/><rect x="686.1" y="435.0" width="1.3" height="0.8" fill="#6c7073" transform="rotate(123 686.8 435.4)"/><rect x="677.1" y="447.2" width="1.6" height="1.1" fill="#ffffff" transform="rotate(80 677.9 447.7)"/><rect x="644.2" y="475.0" width="1.5" height="1.1" fill="#ffffff" transform="rotate(48 645.0 475.6)"/><rect x="705.1" y="427.8" width="1.3" height="1.0" fill="#9a9ea1" transform="rotate(87 705.7 428.3)"/><rect x="668.5" y="454.2" width="1.0" height="0.9" fill="#9a9ea1" transform="rotate(156 669.0 454.7)"/><rect x="646.1" y="465.2" width="1.5" height="1.3" fill="#f4f4f4" transform="rotate(86 646.8 465.8)"/><rect x="680.4" y="449.3" width="1.3" height="0.6" fill="#ffffff" transform="rotate(63 681.1 449.6)"/><rect x="684.9" y="441.7" width="1.9" height="1.0" fill="#6c7073" transform="rotate(54 685.8 442.3)"/><rect x="706.4" y="429.7" width="1.3" height="0.9" fill="#b5b8ba" transform="rotate(166 707.1 430.2)"/><rect x="688.9" y="443.3" width="1.8" height="1.2" fill="#ffffff" transform="rotate(63 689.8 443.9)"/><rect x="673.2" y="449.9" width="1.2" height="0.8" fill="#9a9ea1" transform="rotate(150 673.8 450.3)"/><rect x="688.2" y="435.0" width="1.2" height="1.2" fill="#9a9ea1" transform="rotate(31 688.8 435.6)"/><rect x="663.3" y="450.9" width="1.6" height="0.9" fill="#ffffff" transform="rotate(130 664.1 451.3)"/><rect x="683.7" y="444.1" width="1.5" height="0.7" fill="#9a9ea1" transform="rotate(18 684.5 444.5)"/><rect x="680.8" y="449.8" width="1.5" height="0.9" fill="#b5b8ba" transform="rotate(12 681.5 450.2)"/><rect x="656.0" y="458.1" width="1.0" height="1.4" fill="#f4f4f4" transform="rotate(86 656.5 458.7)"/><rect x="667.1" y="449.3" width="1.1" height="1.1" fill="#6c7073" transform="rotate(92 667.6 449.9)"/><rect x="649.0" y="461.3" width="1.9" height="1.2" fill="#f4f4f4" transform="rotate(163 649.9 461.9)"/><rect x="646.7" y="471.9" width="1.1" height="1.0" fill="#7d8184" transform="rotate(175 647.3 472.3)"/><rect x="664.1" y="459.9" width="0.9" height="1.0" fill="#9a9ea1" transform="rotate(179 664.6 460.4)"/><rect x="650.8" y="472.0" width="1.8" height="1.0" fill="#ffffff" transform="rotate(124 651.7 472.5)"/><rect x="671.7" y="454.8" width="1.2" height="0.8" fill="#f4f4f4" transform="rotate(162 672.3 455.2)"/><rect x="643.8" y="461.9" width="1.7" height="0.8" fill="#ffffff" transform="rotate(136 644.7 462.3)"/><rect x="678.5" y="451.9" width="1.8" height="0.9" fill="#6c7073" transform="rotate(8 679.4 452.3)"/><rect x="680.7" y="447.2" width="1.1" height="0.7" fill="#f4f4f4" transform="rotate(176 681.2 447.6)"/><rect x="691.6" y="435.1" width="1.2" height="0.7" fill="#6c7073" transform="rotate(61 692.2 435.4)"/><rect x="699.5" y="432.7" width="1.0" height="1.1" fill="#f4f4f4" transform="rotate(159 700.0 433.3)"/><rect x="642.5" y="462.4" width="1.7" height="1.0" fill="#7d8184" transform="rotate(127 643.3 462.9)"/><rect x="679.6" y="446.5" width="1.2" height="1.2" fill="#ffffff" transform="rotate(0 680.2 447.1)"/><rect x="660.2" y="461.8" width="0.8" height="0.9" fill="#9a9ea1" transform="rotate(131 660.6 462.3)"/><rect x="697.1" y="428.9" width="1.9" height="0.9" fill="#7d8184" transform="rotate(145 698.1 429.4)"/><rect x="671.5" y="452.5" width="1.7" height="1.0" fill="#f4f4f4" transform="rotate(43 672.3 453.0)"/><rect x="634.9" y="471.7" width="1.4" height="0.7" fill="#9a9ea1" transform="rotate(57 635.6 472.1)"/><rect x="680.0" y="444.6" width="1.1" height="0.7" fill="#b5b8ba" transform="rotate(73 680.5 445.0)"/><rect x="677.8" y="440.9" width="1.6" height="0.8" fill="#ffffff" transform="rotate(137 678.6 441.3)"/><rect x="683.2" y="443.9" width="1.1" height="1.1" fill="#6c7073" transform="rotate(115 683.7 444.4)"/><rect x="693.1" y="429.4" width="1.5" height="0.7" fill="#ffffff" transform="rotate(167 693.8 429.8)"/><rect x="681.2" y="444.7" width="1.5" height="0.8" fill="#ffffff" transform="rotate(94 681.9 445.1)"/><rect x="654.4" y="463.1" width="1.0" height="1.0" fill="#f4f4f4" transform="rotate(86 654.9 463.6)"/><rect x="659.9" y="466.1" width="0.8" height="0.6" fill="#ffffff" transform="rotate(112 660.3 466.4)"/><rect x="641.3" y="472.1" width="2.1" height="0.6" fill="#ffffff" transform="rotate(122 642.4 472.4)"/><rect x="659.2" y="458.2" width="1.9" height="1.2" fill="#f4f4f4" transform="rotate(56 660.1 458.8)"/><rect x="678.1" y="443.6" width="0.9" height="1.4" fill="#6c7073" transform="rotate(34 678.5 444.3)"/><rect x="645.6" y="473.0" width="1.8" height="1.2" fill="#b5b8ba" transform="rotate(25 646.6 473.6)"/><rect x="653.9" y="470.7" width="1.5" height="1.4" fill="#f4f4f4" transform="rotate(1 654.6 471.4)"/><rect x="644.1" y="473.1" width="1.4" height="1.2" fill="#7d8184" transform="rotate(101 644.8 473.7)"/><rect x="665.3" y="453.6" width="2.1" height="0.9" fill="#b5b8ba" transform="rotate(87 666.4 454.1)"/><rect x="686.8" y="443.2" width="1.2" height="0.9" fill="#6c7073" transform="rotate(117 687.4 443.6)"/><rect x="696.0" y="438.4" width="1.9" height="1.2" fill="#ffffff" transform="rotate(108 696.9 439.0)"/><rect x="690.6" y="443.4" width="1.7" height="0.8" fill="#7d8184" transform="rotate(33 691.4 443.8)"/></g>
 <!-- front glass edges -->
 <path d="M616,437 L616,495 L737,463 L737,410" fill="none" stroke="#9ad4ea" stroke-width="1"/>
 <!-- top face -->
 <path d="M570,400 L677,376 L737,410 L616,437Z" fill="url(#topg)"/>
 <path d="M570,400 L601,394 L648,430 L616,437Z" fill="#e4e4e4"/>
 <path d="M663,425 C663,410 693,409 694,421 Z" fill="#4f6d5d" opacity="0.9"/>
 <!-- rim -->
 <path d="M571,398.5 L616,434.5 L737,408" fill="none" stroke="#8fa9b2" stroke-width="3.4" stroke-linecap="round" stroke-linejoin="round"/>
 <path d="M571,398.5 L616,434.5 L737,408" fill="none" stroke="#eef7f9" stroke-width="2" stroke-linecap="round" stroke-linejoin="round"/>
 <path d="M680.5,404 V415" stroke="#6fc2dc" stroke-width="0.8"/>
 <!-- ice -->
 <g fill="#c3e3f8" stroke="#e6f4fc" stroke-width="0.9">
  <rect x="651" y="389" width="12" height="12" rx="2.5" transform="rotate(-15 657 395)"/>
  <rect x="663" y="389" width="12" height="12" rx="2.5" transform="rotate(10 669 395)"/>
  <rect x="674.5" y="392.5" width="12" height="12" rx="2.5" transform="rotate(-20 680.5 398.5)"/>
 </g>
</g>

<!-- labels -->
<g fill="#f6efe4">
 <path d="M184.2,314 H262.4 Q266.4,314 266.4,318 V339.5 Q266.4,343.5 262.4,343.5 H235.6 L227.5,398.5 L217.3,343.5 H184.2 Q180.2,343.5 180.2,339.5 V318 Q180.2,314 184.2,314Z"/>
 <path d="M277.1,314 H353.4 Q357.4,314 357.4,318 V339.5 Q357.4,343.5 353.4,343.5 H318.7 L310.4,398.5 L300.4,343.5 H277.1 Q273.1,343.5 273.1,339.5 V318 Q273.1,314 277.1,314Z"/>
 <path d="M247.9,353.2 H289 Q293,353.2 293,357.2 V379.4 Q293,383.4 289,383.4 H262.9 L257,398.5 L252.2,383.4 H247.9 Q243.9,383.4 243.9,379.4 V357.2 Q243.9,353.2 247.9,353.2Z"/>
 <path d="M274,516.7 H348.3 Q352.3,516.7 352.3,520.7 V547.7 Q352.3,551.7 348.3,551.7 H273.8 Q269.8,551.7 269.8,547.7 V527 L245.4,521.3 L272,516.7Z"/>
 <path d="M586.4,338.6 H662.8 Q666.8,338.6 666.8,342.6 V364.7 Q666.8,368.7 662.8,368.7 H638.7 L629.7,406.6 L620.7,368.7 H586.4 Q582.4,368.7 582.4,364.7 V342.6 Q582.4,338.6 586.4,338.6Z"/>
 <path d="M681,338.6 H739 Q743,338.6 743,342.6 V364.7 Q743,368.7 739,368.7 H687 L681.5,404.3 L677.5,368.7 L677,364.7 V342.6 Q677,338.6 681,338.6Z"/>
 <path d="M699.2,468 L705.1,425 L709.9,468 H746.3 Q750.3,468 750.3,472 V494.2 Q750.3,498.2 746.3,498.2 H699.2 Q695.2,498.2 695.2,494.2 V472 Q695.2,468 699.2,468Z"/>
 <path d="M674.3,510.8 L680.9,460.2 L688.5,510.8 H733.9 Q737.9,510.8 737.9,514.8 V537 Q737.9,541 733.9,541 H675.9 Q671.9,541 671.9,537 V514.8 Q671.9,510.8 674.3,510.8Z"/>
 <path d="M580.4,507.2 L584,453 L592.3,507.2 H662.7 Q666.7,507.2 666.7,511.2 V534.6 Q666.7,538.6 662.7,538.6 H578.5 Q574.5,538.6 574.5,534.6 V511.2 Q574.5,507.2 578.5,507.2Z"/>
</g>
<g class="lb">
 <text x="190.4" y="333.5" textLength="66.6" lengthAdjust="spacing">plastic wrap</text>
 <text x="281.9" y="333.5" textLength="66.5" lengthAdjust="spacing">elastic band</text>
 <text x="261" y="372.7" textLength="15" lengthAdjust="spacing">ice</text>
 <text x="278.3" y="537.5" textLength="65.5" lengthAdjust="spacing">warm water</text>
 <text x="591" y="359.3" textLength="66.8" lengthAdjust="spacing">plastic wrap</text>
 <text x="702.9" y="359.3" textLength="14.6" lengthAdjust="spacing">ice</text>
 <text x="715.1" y="487.5" textLength="16.2" lengthAdjust="spacing">foil</text>
 <text x="691.6" y="530.3" textLength="26.1" lengthAdjust="spacing">sand</text>
 <text x="588" y="527.4" textLength="65.4" lengthAdjust="spacing">warm water</text>
</g>
<g class="sm">
 <text x="369.4" y="443.3" textLength="44.4" lengthAdjust="spacing">plastic wrap</text>
 <text x="421.8" y="443.3" textLength="28.1" lengthAdjust="spacing">weights</text>
 <text x="459.9" y="440" textLength="39.2" lengthAdjust="spacing">condensed</text>
 <text x="469.25" y="449.7" textLength="20.5" lengthAdjust="spacing">water</text>
 <text x="510.1" y="443.3" textLength="43.2" lengthAdjust="spacing">warm water</text>
</g>
<g class="cap">
 <text x="388.9" y="597.3" textLength="153.9" lengthAdjust="spacing">This model works well when left in a warm</text>
 <text x="411.9" y="606.3" textLength="107.5" lengthAdjust="spacing">environment/ sunny location.</text>
 <text x="573.1" y="578.2" textLength="170.1" lengthAdjust="spacing">Children could use a heat lamp to simulate the</text>
 <text x="650" y="587.5" textLength="15.7" lengthAdjust="spacing">sun.</text>
</g>
<!-- footer -->
<text class="ft" x="54.6" y="638.9" textLength="174.6" lengthAdjust="spacing">Copyright © PlanBee Resources Ltd 2026</text>
<text class="ft" x="745" y="638.9" text-anchor="end" textLength="78" lengthAdjust="spacing">www.planbee.com</text>
<g id="avatar">
 <defs><clipPath id="avc"><circle cx="251" cy="229" r="29.5"/></clipPath></defs>
 <g clip-path="url(#avc)">
  <!-- body -->
  <path d="M233,262 C233,252 236,247 242,245 C246,243.5 248,243 251,243 C254,243 257,243.5 261,245 C266,247 269,252 269,262Z" fill="#fbbe60"/>
  <path d="M263.5,245.8 C267,248 269,252 269,262 L265.5,262 C266,256 266,250 263.5,245.8Z" fill="#b8582f"/>
 </g>
 <!-- hair -->
 <g fill="#4a3641">
  <ellipse cx="251" cy="221.5" rx="19.5" ry="18.5"/>
  <circle cx="269.8" cy="221.5" r="4"/><circle cx="268.7" cy="227.5" r="4"/><circle cx="265.4" cy="232.7" r="4"/><circle cx="260.4" cy="236.7" r="4"/><circle cx="254.3" cy="238.7" r="4"/><circle cx="247.7" cy="238.7" r="4"/><circle cx="241.6" cy="236.7" r="4"/><circle cx="236.6" cy="232.7" r="4"/><circle cx="233.3" cy="227.5" r="4"/><circle cx="232.2" cy="221.5" r="4"/><circle cx="233.3" cy="215.5" r="4"/><circle cx="236.6" cy="210.3" r="4"/><circle cx="241.6" cy="206.3" r="4"/><circle cx="247.7" cy="204.3" r="4"/><circle cx="254.3" cy="204.3" r="4"/><circle cx="260.4" cy="206.3" r="4"/><circle cx="265.4" cy="210.3" r="4"/><circle cx="268.7" cy="215.5" r="4"/>
 </g>
 <!-- neck -->
 <rect x="246.5" y="234" width="9" height="10" fill="#9c4527"/>
 <!-- face -->
 <ellipse cx="251" cy="225" rx="9.3" ry="12" fill="#b95a33"/>
 <path d="M242,220 C243,212 248,211 251,211.5 C255,211 259,213 260,219 C256,214 247,214 242,220Z" fill="#4a3641"/>
 <!-- glasses -->
 <g fill="none" stroke="#edc7b0" stroke-width="0.9">
  <circle cx="246" cy="224" r="3.2"/><circle cx="256" cy="224" r="3.2"/><path d="M249.2,224 H252.8"/>
 </g>
 <circle cx="241.5" cy="227.5" r="0.9" fill="#f3e4d4"/><circle cx="260.5" cy="227.5" r="0.9" fill="#f3e4d4"/>
 <path d="M248.5,231.5 Q251,233 253.5,231.5" stroke="#8e3a22" stroke-width="0.7" fill="none"/>
 <!-- hand -->
 <path d="M236,259 C236,251 238,244 242,240 C245,237 249,236 251,238.5 C250,241 247,242 245.5,243.5 C243.5,248 243.5,254 244,259Z" fill="#b0512c"/>
</g>

<g clip-path="url(#pc)">
 <g opacity="0.62" fill-opacity="1"><g transform="translate(393.5 124) scale(1)">
<path d="M-14,-20 C-15,-31 -30,-31 -41.8,-14" stroke="#666" stroke-width="1.2" fill="none"/>
<path d="M-10,-20 C-10,-32 -24,-28 -35.5,-5.5" stroke="#666" stroke-width="1.2" fill="none"/>
<circle cx="-41.8" cy="-14" r="1.8" fill="#858585"/><circle cx="-35.5" cy="-5.5" r="1.8" fill="#858585"/>
<ellipse cx="3.5" cy="-23" rx="5" ry="12.5" fill="#9fa1a3" stroke="#8e8e8e" stroke-width="0.7"/>
<path d="M0,0 C6,-3.5 13,-8 21,-8 C28,-8 31.5,-4 31.5,0 C31.5,4 28,8 21,8 C13,8 6,3.5 0,0Z" transform="translate(14 -10.5) rotate(-42.3)" fill="#9fa1a3" stroke="#8e8e8e" stroke-width="0.7"/>
<path d="M-29,-5 C-31,-17 -20,-23 -9,-19 C-2,-17 4,-12 8,-9 C20,-6 31,4 29,16 C27,24 16,23 9,18 C3,14 -2,11 -6,10 C-16,12 -28,7 -29,-5Z" fill="#9fa1a3" stroke="#8e8e8e" stroke-width="0.7"/>
<ellipse cx="2.5" cy="-7.5" rx="1.8" ry="1.2" fill="#fff"/>
</g>
<g transform="translate(393.5 408.5) scale(1)">
<path d="M-14,-20 C-15,-31 -30,-31 -41.8,-14" stroke="#666" stroke-width="1.2" fill="none"/>
<path d="M-10,-20 C-10,-32 -24,-28 -35.5,-5.5" stroke="#666" stroke-width="1.2" fill="none"/>
<circle cx="-41.8" cy="-14" r="1.8" fill="#858585"/><circle cx="-35.5" cy="-5.5" r="1.8" fill="#858585"/>
<ellipse cx="3.5" cy="-23" rx="5" ry="12.5" fill="#9fa1a3" stroke="#8e8e8e" stroke-width="0.7"/>
<path d="M0,0 C6,-3.5 13,-8 21,-8 C28,-8 31.5,-4 31.5,0 C31.5,4 28,8 21,8 C13,8 6,3.5 0,0Z" transform="translate(14 -10.5) rotate(-42.3)" fill="#9fa1a3" stroke="#8e8e8e" stroke-width="0.7"/>
<path d="M-29,-5 C-31,-17 -20,-23 -9,-19 C-2,-17 4,-12 8,-9 C20,-6 31,4 29,16 C27,24 16,23 9,18 C3,14 -2,11 -6,10 C-16,12 -28,7 -29,-5Z" fill="#9fa1a3" stroke="#8e8e8e" stroke-width="0.7"/>
<ellipse cx="2.5" cy="-7.5" rx="1.8" ry="1.2" fill="#fff"/>
</g>
<g transform="translate(397.5 679.5) scale(1)">
<path d="M-14,-20 C-15,-31 -30,-31 -41.8,-14" stroke="#666" stroke-width="1.2" fill="none"/>
<path d="M-10,-20 C-10,-32 -24,-28 -35.5,-5.5" stroke="#666" stroke-width="1.2" fill="none"/>
<circle cx="-41.8" cy="-14" r="1.8" fill="#858585"/><circle cx="-35.5" cy="-5.5" r="1.8" fill="#858585"/>
<ellipse cx="3.5" cy="-23" rx="5" ry="12.5" fill="#9fa1a3" stroke="#8e8e8e" stroke-width="0.7"/>
<path d="M0,0 C6,-3.5 13,-8 21,-8 C28,-8 31.5,-4 31.5,0 C31.5,4 28,8 21,8 C13,8 6,3.5 0,0Z" transform="translate(14 -10.5) rotate(-42.3)" fill="#9fa1a3" stroke="#8e8e8e" stroke-width="0.7"/>
<path d="M-29,-5 C-31,-17 -20,-23 -9,-19 C-2,-17 4,-12 8,-9 C20,-6 31,4 29,16 C27,24 16,23 9,18 C3,14 -2,11 -6,10 C-16,12 -28,7 -29,-5Z" fill="#9fa1a3" stroke="#8e8e8e" stroke-width="0.7"/>
<ellipse cx="2.5" cy="-7.5" rx="1.8" ry="1.2" fill="#fff"/>
</g>
<g transform="translate(150 266) scale(0.69)">
<path d="M-14,-20 C-15,-31 -30,-31 -41.8,-14" stroke="#666" stroke-width="1.2" fill="none"/>
<path d="M-10,-20 C-10,-32 -24,-28 -35.5,-5.5" stroke="#666" stroke-width="1.2" fill="none"/>
<circle cx="-41.8" cy="-14" r="1.8" fill="#858585"/><circle cx="-35.5" cy="-5.5" r="1.8" fill="#858585"/>
<ellipse cx="3.5" cy="-23" rx="5" ry="12.5" fill="#9fa1a3" stroke="#8e8e8e" stroke-width="0.7"/>
<path d="M0,0 C6,-3.5 13,-8 21,-8 C28,-8 31.5,-4 31.5,0 C31.5,4 28,8 21,8 C13,8 6,3.5 0,0Z" transform="translate(14 -10.5) rotate(-42.3)" fill="#9fa1a3" stroke="#8e8e8e" stroke-width="0.7"/>
<path d="M-29,-5 C-31,-17 -20,-23 -9,-19 C-2,-17 4,-12 8,-9 C20,-6 31,4 29,16 C27,24 16,23 9,18 C3,14 -2,11 -6,10 C-16,12 -28,7 -29,-5Z" fill="#9fa1a3" stroke="#8e8e8e" stroke-width="0.7"/>
<ellipse cx="2.5" cy="-7.5" rx="1.8" ry="1.2" fill="#fff"/>
</g>
<g transform="translate(152.5 544) scale(0.69)">
<path d="M-14,-20 C-15,-31 -30,-31 -41.8,-14" stroke="#666" stroke-width="1.2" fill="none"/>
<path d="M-10,-20 C-10,-32 -24,-28 -35.5,-5.5" stroke="#666" stroke-width="1.2" fill="none"/>
<circle cx="-41.8" cy="-14" r="1.8" fill="#858585"/><circle cx="-35.5" cy="-5.5" r="1.8" fill="#858585"/>
<ellipse cx="3.5" cy="-23" rx="5" ry="12.5" fill="#9fa1a3" stroke="#8e8e8e" stroke-width="0.7"/>
<path d="M0,0 C6,-3.5 13,-8 21,-8 C28,-8 31.5,-4 31.5,0 C31.5,4 28,8 21,8 C13,8 6,3.5 0,0Z" transform="translate(14 -10.5) rotate(-42.3)" fill="#9fa1a3" stroke="#8e8e8e" stroke-width="0.7"/>
<path d="M-29,-5 C-31,-17 -20,-23 -9,-19 C-2,-17 4,-12 8,-9 C20,-6 31,4 29,16 C27,24 16,23 9,18 C3,14 -2,11 -6,10 C-16,12 -28,7 -29,-5Z" fill="#9fa1a3" stroke="#8e8e8e" stroke-width="0.7"/>
<ellipse cx="2.5" cy="-7.5" rx="1.8" ry="1.2" fill="#fff"/>
</g>
<g transform="translate(639.5 261.5) scale(0.69)">
<path d="M-14,-20 C-15,-31 -30,-31 -41.8,-14" stroke="#666" stroke-width="1.2" fill="none"/>
<path d="M-10,-20 C-10,-32 -24,-28 -35.5,-5.5" stroke="#666" stroke-width="1.2" fill="none"/>
<circle cx="-41.8" cy="-14" r="1.8" fill="#858585"/><circle cx="-35.5" cy="-5.5" r="1.8" fill="#858585"/>
<ellipse cx="3.5" cy="-23" rx="5" ry="12.5" fill="#9fa1a3" stroke="#8e8e8e" stroke-width="0.7"/>
<path d="M0,0 C6,-3.5 13,-8 21,-8 C28,-8 31.5,-4 31.5,0 C31.5,4 28,8 21,8 C13,8 6,3.5 0,0Z" transform="translate(14 -10.5) rotate(-42.3)" fill="#9fa1a3" stroke="#8e8e8e" stroke-width="0.7"/>
<path d="M-29,-5 C-31,-17 -20,-23 -9,-19 C-2,-17 4,-12 8,-9 C20,-6 31,4 29,16 C27,24 16,23 9,18 C3,14 -2,11 -6,10 C-16,12 -28,7 -29,-5Z" fill="#9fa1a3" stroke="#8e8e8e" stroke-width="0.7"/>
<ellipse cx="2.5" cy="-7.5" rx="1.8" ry="1.2" fill="#fff"/>
</g>
<g transform="translate(646.8 547.5) scale(0.69)">
<path d="M-14,-20 C-15,-31 -30,-31 -41.8,-14" stroke="#666" stroke-width="1.2" fill="none"/>
<path d="M-10,-20 C-10,-32 -24,-28 -35.5,-5.5" stroke="#666" stroke-width="1.2" fill="none"/>
<circle cx="-41.8" cy="-14" r="1.8" fill="#858585"/><circle cx="-35.5" cy="-5.5" r="1.8" fill="#858585"/>
<ellipse cx="3.5" cy="-23" rx="5" ry="12.5" fill="#9fa1a3" stroke="#8e8e8e" stroke-width="0.7"/>
<path d="M0,0 C6,-3.5 13,-8 21,-8 C28,-8 31.5,-4 31.5,0 C31.5,4 28,8 21,8 C13,8 6,3.5 0,0Z" transform="translate(14 -10.5) rotate(-42.3)" fill="#9fa1a3" stroke="#8e8e8e" stroke-width="0.7"/>
<path d="M-29,-5 C-31,-17 -20,-23 -9,-19 C-2,-17 4,-12 8,-9 C20,-6 31,4 29,16 C27,24 16,23 9,18 C3,14 -2,11 -6,10 C-16,12 -28,7 -29,-5Z" fill="#9fa1a3" stroke="#8e8e8e" stroke-width="0.7"/>
<ellipse cx="2.5" cy="-7.5" rx="1.8" ry="1.2" fill="#fff"/>
</g></g>
 <mask id="mA" maskUnits="userSpaceOnUse" x="0" y="0" width="800" height="800"><rect width="800" height="800" fill="#fff"/><g fill="#000"><path d="M204,390 H326 V547 H204Z"/><path d="M374,494.5 H552 V579 H374Z"/><path d="M568,374 L680,372 L740,405 L740,466 L616,497 L569,459Z"/></g><g fill="#fff"><rect x="269.8" y="516.7" width="82.5" height="35"/><path d="M245,521 L272,516 V528Z"/><rect x="574.5" y="440" width="18" height="100"/><rect x="671.9" y="455" width="17" height="86"/><rect x="695.2" y="420" width="16" height="79"/><rect x="695.2" y="468" width="56" height="31"/></g></mask>
 <mask id="mB" maskUnits="userSpaceOnUse" x="0" y="0" width="800" height="800"><rect width="800" height="800" fill="#000"/><g fill="#fff"><path d="M204,390 H326 V547 H204Z"/><path d="M374,494.5 H552 V579 H374Z"/><path d="M568,374 L680,372 L740,405 L740,466 L616,497 L569,459Z"/></g><g fill="#000"><rect x="269.8" y="516.7" width="82.5" height="35"/><path d="M245,521 L272,516 V528Z"/><rect x="574.5" y="440" width="18" height="100"/><rect x="671.9" y="455" width="17" height="86"/><rect x="695.2" y="420" width="16" height="79"/><rect x="695.2" y="468" width="56" height="31"/></g></mask>
 <path d="M-10.9 117.5L71.6 117.5 M235.0 117.5L317.5 117.5 M480.9 117.5L563.4 117.5 M726.8 117.5L809.3 117.5 M71.6 117.5L112.0 188.0 M317.5 117.5L357.9 188.0 M235.0 117.5L194.6 188.0 M563.4 117.5L603.9 188.0 M480.9 117.5L440.4 188.0 M726.8 117.5L686.4 188.0 M112.0 188.0L194.6 188.0 M357.9 188.0L440.5 188.0 M603.9 188.0L686.4 188.0 M112.0 188.0L71.6 258.5 M194.6 188.0L235.0 258.5 M357.9 188.0L317.5 258.5 M440.5 188.0L480.9 258.5 M603.9 188.0L563.4 258.5 M686.4 188.0L726.8 258.5 M-10.9 258.5L71.6 258.5 M235.0 258.5L317.5 258.5 M480.9 258.5L563.4 258.5 M726.8 258.5L809.3 258.5 M71.6 258.5L112.0 329.0 M317.5 258.5L357.9 329.0 M235.0 258.5L194.6 329.0 M563.4 258.5L603.9 329.0 M480.9 258.5L440.4 329.0 M726.8 258.5L686.4 329.0 M112.0 329.0L194.6 329.0 M357.9 329.0L440.5 329.0 M603.9 329.0L686.4 329.0 M112.0 329.0L71.6 399.5 M194.6 329.0L235.0 399.5 M357.9 329.0L317.5 399.5 M440.5 329.0L480.9 399.5 M603.9 329.0L563.4 399.5 M686.4 329.0L726.8 399.5 M-10.9 399.5L71.6 399.5 M235.0 399.5L317.5 399.5 M480.9 399.5L563.4 399.5 M726.8 399.5L809.3 399.5 M71.6 399.5L112.0 470.0 M317.5 399.5L357.9 470.0 M235.0 399.5L194.6 470.0 M563.4 399.5L603.9 470.0 M480.9 399.5L440.4 470.0 M726.8 399.5L686.4 470.0 M112.0 470.0L194.6 470.0 M357.9 470.0L440.5 470.0 M603.9 470.0L686.4 470.0 M112.0 470.0L71.6 540.5 M194.6 470.0L235.0 540.5 M357.9 470.0L317.5 540.5 M440.5 470.0L480.9 540.5 M603.9 470.0L563.4 540.5 M686.4 470.0L726.8 540.5 M-10.9 540.5L71.6 540.5 M235.0 540.5L317.5 540.5 M480.9 540.5L563.4 540.5 M726.8 540.5L809.3 540.5 M71.6 540.5L112.0 611.0 M317.5 540.5L357.9 611.0 M235.0 540.5L194.6 611.0 M563.4 540.5L603.9 611.0 M480.9 540.5L440.4 611.0 M726.8 540.5L686.4 611.0 M112.0 611.0L194.6 611.0 M357.9 611.0L440.5 611.0 M603.9 611.0L686.4 611.0 M112.0 611.0L71.6 681.5 M194.6 611.0L235.0 681.5 M357.9 611.0L317.5 681.5 M440.5 611.0L480.9 681.5 M603.9 611.0L563.4 681.5 M686.4 611.0L726.8 681.5 M-10.9 681.5L71.6 681.5 M235.0 681.5L317.5 681.5 M480.9 681.5L563.4 681.5 M726.8 681.5L809.3 681.5" stroke="#b8b8b8" stroke-width="3" stroke-dasharray="5 5" fill="none" opacity="0.65" mask="url(#mA)"/>
 <path d="M-10.9 117.5L71.6 117.5 M235.0 117.5L317.5 117.5 M480.9 117.5L563.4 117.5 M726.8 117.5L809.3 117.5 M71.6 117.5L112.0 188.0 M317.5 117.5L357.9 188.0 M235.0 117.5L194.6 188.0 M563.4 117.5L603.9 188.0 M480.9 117.5L440.4 188.0 M726.8 117.5L686.4 188.0 M112.0 188.0L194.6 188.0 M357.9 188.0L440.5 188.0 M603.9 188.0L686.4 188.0 M112.0 188.0L71.6 258.5 M194.6 188.0L235.0 258.5 M357.9 188.0L317.5 258.5 M440.5 188.0L480.9 258.5 M603.9 188.0L563.4 258.5 M686.4 188.0L726.8 258.5 M-10.9 258.5L71.6 258.5 M235.0 258.5L317.5 258.5 M480.9 258.5L563.4 258.5 M726.8 258.5L809.3 258.5 M71.6 258.5L112.0 329.0 M317.5 258.5L357.9 329.0 M235.0 258.5L194.6 329.0 M563.4 258.5L603.9 329.0 M480.9 258.5L440.4 329.0 M726.8 258.5L686.4 329.0 M112.0 329.0L194.6 329.0 M357.9 329.0L440.5 329.0 M603.9 329.0L686.4 329.0 M112.0 329.0L71.6 399.5 M194.6 329.0L235.0 399.5 M357.9 329.0L317.5 399.5 M440.5 329.0L480.9 399.5 M603.9 329.0L563.4 399.5 M686.4 329.0L726.8 399.5 M-10.9 399.5L71.6 399.5 M235.0 399.5L317.5 399.5 M480.9 399.5L563.4 399.5 M726.8 399.5L809.3 399.5 M71.6 399.5L112.0 470.0 M317.5 399.5L357.9 470.0 M235.0 399.5L194.6 470.0 M563.4 399.5L603.9 470.0 M480.9 399.5L440.4 470.0 M726.8 399.5L686.4 470.0 M112.0 470.0L194.6 470.0 M357.9 470.0L440.5 470.0 M603.9 470.0L686.4 470.0 M112.0 470.0L71.6 540.5 M194.6 470.0L235.0 540.5 M357.9 470.0L317.5 540.5 M440.5 470.0L480.9 540.5 M603.9 470.0L563.4 540.5 M686.4 470.0L726.8 540.5 M-10.9 540.5L71.6 540.5 M235.0 540.5L317.5 540.5 M480.9 540.5L563.4 540.5 M726.8 540.5L809.3 540.5 M71.6 540.5L112.0 611.0 M317.5 540.5L357.9 611.0 M235.0 540.5L194.6 611.0 M563.4 540.5L603.9 611.0 M480.9 540.5L440.4 611.0 M726.8 540.5L686.4 611.0 M112.0 611.0L194.6 611.0 M357.9 611.0L440.5 611.0 M603.9 611.0L686.4 611.0 M112.0 611.0L71.6 681.5 M194.6 611.0L235.0 681.5 M357.9 611.0L317.5 681.5 M440.5 611.0L480.9 681.5 M603.9 611.0L563.4 681.5 M686.4 611.0L726.8 681.5 M-10.9 681.5L71.6 681.5 M235.0 681.5L317.5 681.5 M480.9 681.5L563.4 681.5 M726.8 681.5L809.3 681.5" stroke="#c4c4c4" stroke-width="3" stroke-dasharray="5 5" fill="none" opacity="0.42" mask="url(#mB)"/>
</g>
<rect x="0.6" y="117.2" width="798.6" height="565" fill="none" stroke="#2b2b2b" stroke-width="1.3"/>
</svg>
</body></html>
